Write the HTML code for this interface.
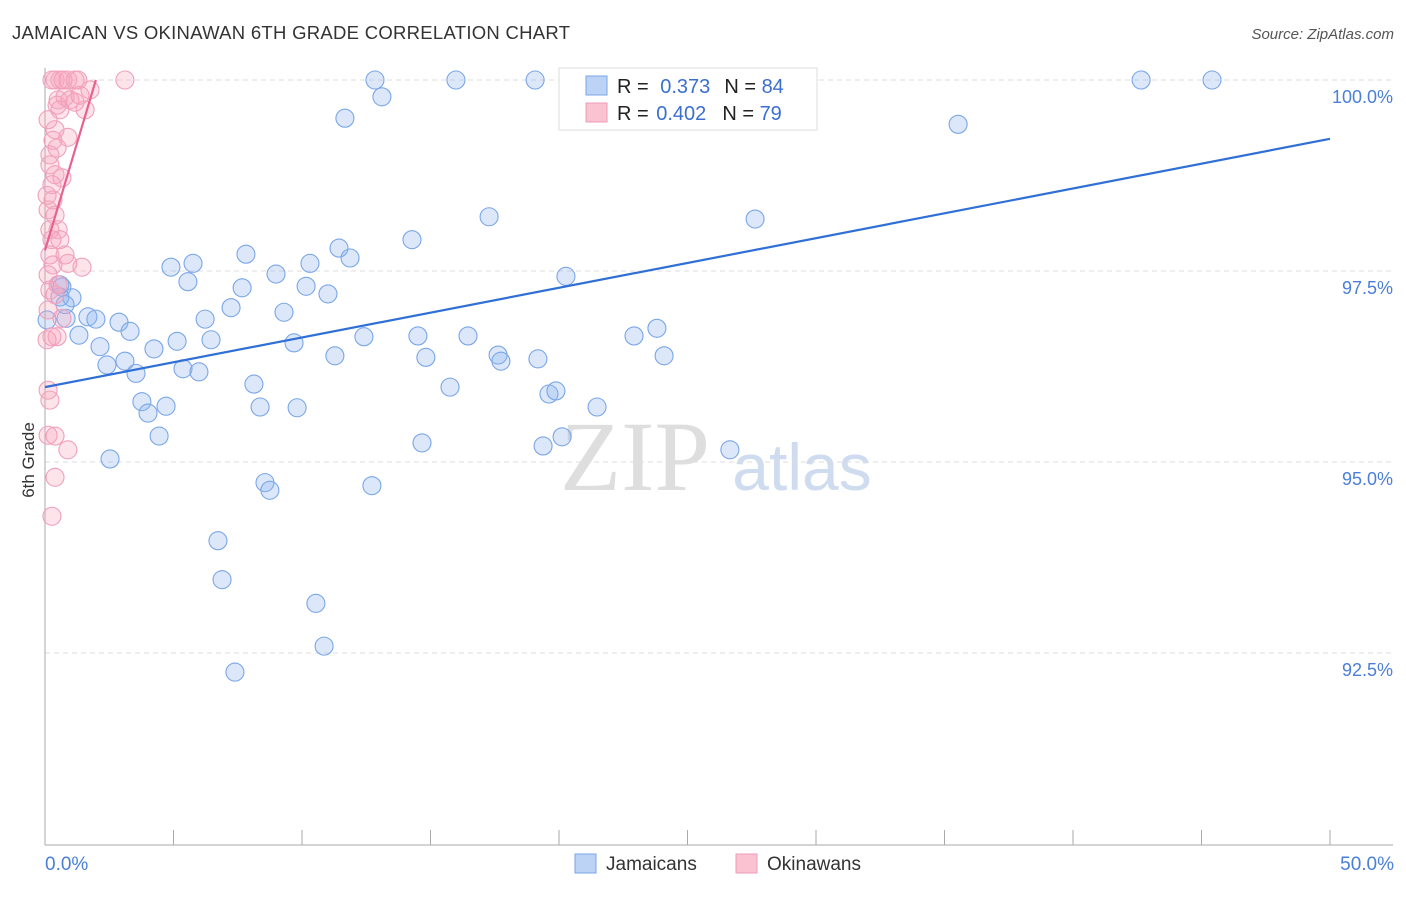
<!DOCTYPE html>
<html><head><meta charset="utf-8"><style>
body{margin:0;background:#fff;font-family:"Liberation Sans",sans-serif}
</style></head><body>
<svg id="c" width="1406" height="892" style="font-family:'Liberation Sans',sans-serif">
<text x="12" y="39" font-size="18.5" fill="#333" textLength="558">JAMAICAN VS OKINAWAN 6TH GRADE CORRELATION CHART</text>
<text x="1394" y="39" font-size="15" fill="#555" font-style="italic" text-anchor="end">Source: ZipAtlas.com</text>
<text x="34" y="460" font-size="17" fill="#333" transform="rotate(-90 34 460)" text-anchor="middle">6th Grade</text>
<g><text x="635" y="490" font-size="100" fill="#dedede" style="font-family:'Liberation Serif',serif" text-anchor="middle">ZIP</text><text x="802" y="490" font-size="66" fill="#cfdcf0" text-anchor="middle">atlas</text></g>
<g id="grid"></g><g id="axes"></g><g id="pts"></g><g id="lines"></g>
<g>
<rect x="559" y="68" width="258" height="62" fill="#fff" stroke="#ddd"/>
<rect x="586" y="76" width="21" height="19" fill="#bcd3f5" stroke="#7aa5e6"/>
<rect x="586" y="103" width="21" height="19" fill="#f9c3d2" stroke="#ee9bb5"/>
<text x="617" y="93" font-size="20" fill="#222">R = <tspan fill="#3a6fd0" dx="6">0.373</tspan><tspan dx="14" fill="#222">N = </tspan><tspan fill="#3a6fd0">84</tspan></text>
<text x="617" y="120" font-size="20" fill="#222">R = <tspan fill="#3a6fd0" dx="2">0.402</tspan><tspan dx="16" fill="#222">N = </tspan><tspan fill="#3a6fd0">79</tspan></text>
</g>
<g>
<rect x="575" y="854" width="21" height="19" fill="#bcd3f5" stroke="#7aa5e6"/>
<text x="606" y="870" font-size="19" fill="#333">Jamaicans</text>
<rect x="736" y="854" width="21" height="19" fill="#f9c3d2" stroke="#ee9bb5"/>
<text x="767" y="870" font-size="19" fill="#333">Okinawans</text>
</g>
</svg>
<script>
const blueX=[0.66,0.58,1.05,0.82,1.67,1.98,1.32,2.14,2.41,2.88,3.31,3.11,3.54,3.77,4.01,4.44,4.71,4.24,4.90,5.14,5.37,5.56,5.76,5.99,6.23,6.46,6.73,6.89,7.24,7.39,7.67,7.82,8.13,8.37,8.56,8.75,8.99,9.30,9.69,9.81,10.16,10.31,10.54,10.86,11.01,11.28,11.44,11.67,11.87,12.41,12.72,12.84,13.11,14.28,14.51,14.67,14.82,15.76,15.99,16.46,17.28,17.63,17.74,19.07,19.18,19.38,19.61,19.88,20.12,20.27,21.48,22.92,23.81,24.09,26.50,26.65,27.63,35.53,42.65,45.41,2.53,0.08,0.58,0.78];
const blueY=[97.29,97.16,97.15,96.88,96.90,96.87,96.66,96.51,96.27,96.83,96.71,96.32,96.16,95.79,95.64,95.34,95.73,96.48,97.55,96.58,96.22,97.36,97.60,96.18,96.87,96.60,93.97,93.46,97.02,92.25,97.28,97.72,96.02,95.72,94.73,94.63,97.46,96.96,96.56,95.71,97.30,97.60,93.15,92.59,97.20,96.39,97.80,99.50,97.67,96.64,94.69,100,99.78,97.91,96.65,95.25,96.37,95.98,100,96.65,98.21,96.40,96.32,100,96.35,95.21,95.89,95.93,95.33,97.43,95.72,96.65,96.75,96.39,100,95.16,98.18,99.42,100,100,95.04,96.86,97.32,97.06];
const pinkX=[0.39,0.58,0.89,1.17,1.28,3.11,0.27,0.70,0.51,0.78,1.17,1.56,0.47,0.58,0.39,0.31,0.89,0.47,0.19,0.39,0.66,0.27,0.31,0.12,0.39,0.19,0.51,0.27,0.58,0.19,0.31,0.78,0.89,1.44,0.12,0.19,0.39,0.12,0.66,0.27,0.47,0.12,0.19,0.12,0.39,0.89,0.39,0.27,0.97,1.36,1.75,0.12,0.19,0.08,0.51,0.08];
const pinkY=[100,100,100,100,100,100,100,100,99.74,99.78,99.71,99.61,99.67,99.61,99.35,99.21,99.25,99.11,98.89,98.76,98.72,98.63,98.43,98.30,98.23,98.04,98.04,97.91,97.91,97.71,97.58,97.71,97.60,97.55,97.45,97.25,97.19,96.99,96.88,96.64,96.64,95.94,95.81,95.35,95.34,95.16,94.80,94.29,99.74,99.80,99.87,99.48,99.02,98.49,97.32,96.60];
const yTicks=[100,97.5,95,92.5];
const yTickLabels=["100.0%","97.5%","95.0%","92.5%"];
const xTickLabels=["0.0%","50.0%"];
const blueTrend=[95.98,99.23];
const pinkTrend=[97.77,100,1.98];
const NS="http://www.w3.org/2000/svg";
const sx=v=>45+v*25.7, sy=v=>80+(100-v)*76.4;
function mk(t,a,p){const e=document.createElementNS(NS,t);for(const k in a)e.setAttribute(k,a[k]);document.getElementById(p).appendChild(e);return e;}
yTicks.forEach((t,i)=>{
 const g=mk('line',{x1:45,x2:1393,y1:sy(t),y2:sy(t),stroke:'#ddd','stroke-dasharray':'5,4'},'grid');
 
 
 const l=mk('text',{x:1393,y:sy(t)+23,'font-size':18,fill:'#4a7fd8','text-anchor':'end'},'axes');
 l.textContent=yTickLabels[i];
 
 
});
const ax=mk('line',{x1:45,x2:45,y1:68,y2:845,stroke:'#aaa'},'axes');


const bx=mk('line',{x1:45,x2:1393,y1:845,y2:845,stroke:'#aaa'},'axes');


for(let i=0;i<=10;i++){const t=mk('line',{x1:sx(i*5),x2:sx(i*5),y1:830,y2:845,stroke:'#aaa'},'axes');
 
 }
[[0,'start',45],[50,'end',1394]].forEach((d,i)=>{const l=mk('text',{x:d[2],y:870,'font-size':19,fill:'#4a7fd8','text-anchor':d[1]},'axes');l.textContent=xTickLabels[i];
 
 });
blueX.forEach((x,i)=>{const c=mk('circle',{cx:sx(x),cy:sy(blueY[i]),r:9,fill:'rgba(140,180,240,0.3)',stroke:'#7aa6e8','stroke-width':1.1},'pts');
 
 });
pinkX.forEach((x,i)=>{const c=mk('circle',{cx:sx(x),cy:sy(pinkY[i]),r:9,fill:'rgba(248,165,190,0.3)',stroke:'#f0a0ba','stroke-width':1.1},'pts');
 
 });
const bl=mk('line',{x1:sx(0),y1:sy(blueTrend[0]),x2:sx(50),y2:sy(blueTrend[1]),stroke:'#2f6fd6','stroke-width':2.2},'lines');


const pl=mk('line',{x1:sx(0),y1:sy(pinkTrend[0]),x2:sx(pinkTrend[2]),y2:sy(pinkTrend[1]),stroke:'#e8628f','stroke-width':2.2},'lines');


</script>
</body></html>
